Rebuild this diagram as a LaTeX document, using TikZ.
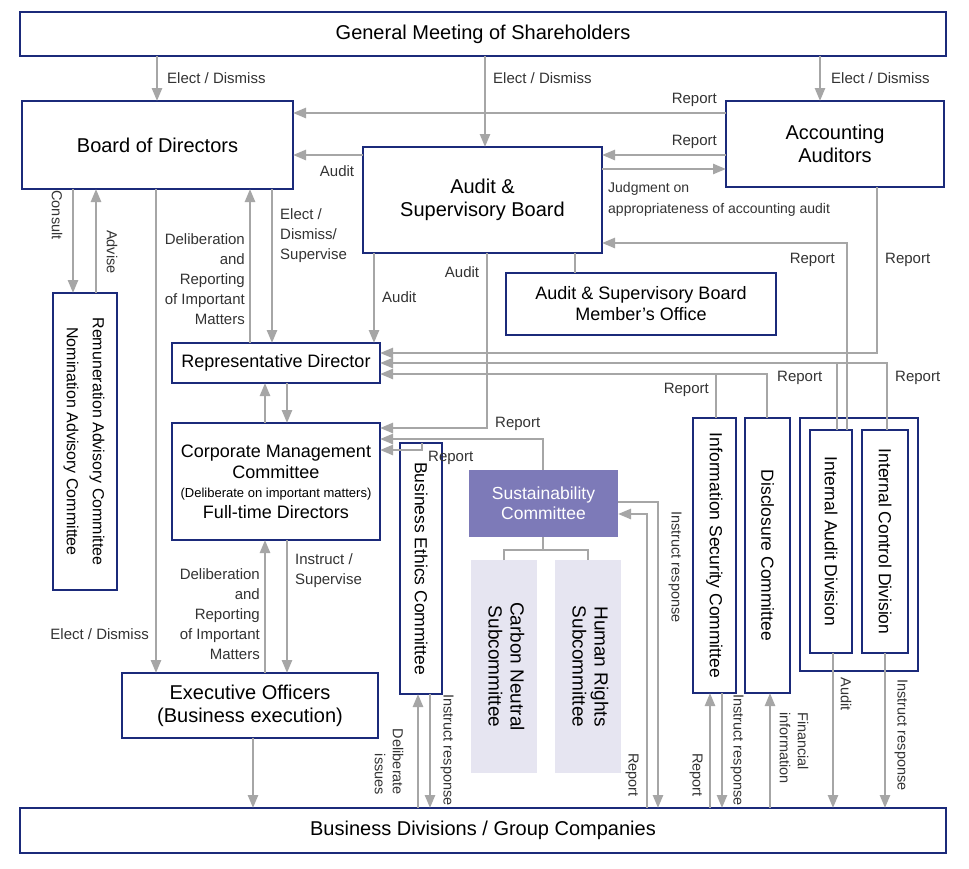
\documentclass[tikz,border=0pt]{standalone}
\usepackage{fontspec}
\setmainfont{Liberation Sans}
\usetikzlibrary{arrows.meta}
\definecolor{navy}{HTML}{1B2A7A}
\definecolor{cgray}{HTML}{A6A6A6}
\definecolor{susf}{HTML}{7D7AB8}
\definecolor{subf}{HTML}{E6E5F1}
\begin{document}
\begin{tikzpicture}[x=1pt,y=-1pt,
 box/.style={draw=navy,line width=2pt,fill=white,inner sep=0pt,outer sep=0pt,align=center,font=\fontsize{20}{23}\selectfont},
 sbox/.style={box,font=\fontsize{18}{21}\selectfont},
 vbox/.style={box,font=\fontsize{17.5}{20}\selectfont},
 arr/.style={draw=cgray,line width=2.5pt,-{Triangle[length=13pt,width=10pt]}},
 ln/.style={draw=cgray,line width=2.5pt},
 lab/.style={font=\fontsize{15}{20}\selectfont,text=black!80,inner sep=1pt},
 rlab/.style={lab,rotate=-90,font=\fontsize{14.5}{18}\selectfont}]
\useasboundingbox[fill=white] (0,0) rectangle (969,868);
% boxes
\node[box,minimum width=926pt,minimum height=44pt] (gm) at (483,34) {General Meeting of Shareholders};
\node[box,minimum width=271pt,minimum height=88pt] (bod) at (157.5,145) {Board of Directors};
\node[box,minimum width=239pt,minimum height=106pt] (asb) at (482.5,200) {Audit \&\\Supervisory Board};
\node[box,minimum width=218pt,minimum height=86pt] (aa) at (835,144) {Accounting\\Auditors};
\node[sbox,minimum width=270pt,minimum height=62pt] (off) at (641,304) {Audit \& Supervisory Board\\Member’s Office};
\node[box,minimum width=64pt,minimum height=297pt,font=\fontsize{16}{26}\selectfont] (rn) at (85,441.5) {\rotatebox{-90}{\begin{tabular}{@{}c@{}}Remuneration Advisory Committee\\Nomination Advisory Committee\end{tabular}}};
\node[sbox,minimum width=208pt,minimum height=40pt] (rd) at (276,363) {Representative Director};
\node[sbox,minimum width=208pt,minimum height=117pt] (cmc) at (276,481.5) {Corporate Management\\Committee\\[-2pt]{\fontsize{13}{16}\selectfont(Deliberate on important matters)}\\Full-time Directors};
\node[box,minimum width=256pt,minimum height=65pt] (eo) at (250,705.5) {Executive Officers\\(Business execution)};
\node[vbox,minimum width=42pt,minimum height=251pt] (bec) at (421,568.5) {\rotatebox{-90}{Business Ethics Committee}};
\node[vbox,draw=none,fill=susf,text=white,minimum width=149pt,minimum height=67pt] (sus) at (543.5,503.5) {Sustainability\\Committee};
\node[box,draw=none,fill=subf,minimum width=66pt,minimum height=213pt,font=\fontsize{19}{22}\selectfont] (cn) at (504,666.5) {\rotatebox{-90}{\begin{tabular}{@{}c@{}}Carbon Neutral\\Subcommittee\end{tabular}}};
\node[box,draw=none,fill=subf,minimum width=66pt,minimum height=213pt,font=\fontsize{19}{22}\selectfont] (hr) at (588,666.5) {\rotatebox{-90}{\begin{tabular}{@{}c@{}}Human Rights\\Subcommittee\end{tabular}}};
\node[vbox,minimum width=43pt,minimum height=275pt] (isc) at (714.5,555.5) {\rotatebox{-90}{Information Security Committee}};
\node[vbox,minimum width=45pt,minimum height=275pt] (dc) at (767.5,555.5) {\rotatebox{-90}{Disclosure Committee}};
\node[box,minimum width=118pt,minimum height=253pt] (outer) at (859,544.5) {};
\node[vbox,minimum width=42pt,minimum height=223pt] (iad) at (831,541.5) {\rotatebox{-90}{Internal Audit Division}};
\node[vbox,minimum width=46pt,minimum height=223pt] (icd) at (885,541.5) {\rotatebox{-90}{Internal Control Division}};
\node[box,minimum width=926pt,minimum height=45pt] (bd) at (483,830.5) {Business Divisions / Group Companies};
% connectors from GM
\draw[arr] (157,0 |- gm.south) -- (157,0 |- bod.north);
\node[lab,anchor=west] (l1) at (166,78) {Elect / Dismiss};
\draw[arr] (485,0 |- gm.south) -- (485,0 |- asb.north);
\node[lab,anchor=west] (l2) at (492,78) {Elect / Dismiss};
\draw[arr] (820,0 |- gm.south) -- (820,0 |- aa.north);
\node[lab,anchor=west] (l3) at (830,78) {Elect / Dismiss};
% AA / ASB / BoD
\draw[arr] (aa.west |- 0,113) -- (bod.east |- 0,113);
\node[lab,anchor=east] (l4) at (718,100) {Report};
\draw[arr] (aa.west |- 0,155) -- (asb.east |- 0,155);
\node[lab,anchor=east] (l5) at (718,142) {Report};
\draw[arr] (asb.east |- 0,169) -- (aa.west |- 0,169);
\node[lab,anchor=west,align=left,font=\fontsize{14}{21}\selectfont] (l6) at (607,199) {Judgment on\\appropriateness of accounting audit};
\draw[arr] (asb.west |- 0,155) -- (bod.east |- 0,155);
\node[lab] (l7) at (337,171) {Audit};
% BoD & RN
\draw[arr] (73,0 |- bod.south) -- (73,0 |- rn.north);
\node[rlab] (l8) at (57,215) {Consult};
\draw[arr] (96,0 |- rn.north) -- (96,0 |- bod.south);
\node[rlab] (l9) at (112,252) {Advise};
\draw[arr] (156,0 |- bod.south) -- (156,0 |- eo.north);
\node[lab,anchor=east] (l10) at (150,634) {Elect / Dismiss};
% BoD & RD
\draw[arr] (250,0 |- rd.north) -- (250,0 |- bod.south);
\node[lab,anchor=east,align=right] (l11) at (246,279) {Deliberation\\and\\Reporting\\of Important\\Matters};
\draw[arr] (272,0 |- bod.south) -- (272,0 |- rd.north);
\node[lab,anchor=west,align=left] (l12) at (279,236) {Elect /\\Dismiss/\\Supervise};
\draw[arr] (374,0 |- asb.south) -- (374,0 |- rd.north);
\node[lab,anchor=west] (l13) at (381,297) {Audit};
\draw[ln] (575,0 |- asb.south) -- (575,0 |- off.north);
% to CMC
\draw[arr] (487,0 |- asb.south) |- (cmc.east |- 0,428);
\node[lab] (l14) at (462,272) {Audit};
\draw[arr] (543,0 |- sus.north) |- (cmc.east |- 0,439);
\node[lab,anchor=west] (l15) at (494,424) {Report};
\draw[arr] (422,0 |- bec.north) |- (cmc.east |- 0,450);
\node[lab,anchor=west] (l16) at (427,458) {Report};
% RD / CMC / EO
\draw[arr] (265,0 |- cmc.north) -- (265,0 |- rd.south);
\draw[arr] (287,0 |- rd.south) -- (287,0 |- cmc.north);
\draw[arr] (265,0 |- eo.north) -- (265,0 |- cmc.south);
\node[lab,anchor=east,align=right] (l17) at (261,614) {Deliberation\\and\\Reporting\\of Important\\Matters};
\draw[arr] (287,0 |- cmc.south) -- (287,0 |- eo.north);
\node[lab,anchor=west,align=left] (l18) at (294,571) {Instruct /\\Supervise};
\draw[arr] (253,0 |- eo.south) -- (253,0 |- bd.north);
% BEC
\draw[arr] (418,0 |- bd.north) -- (418,0 |- bec.south);
\node[rlab,align=right] (l19) at (389,762) {Deliberate\\issues};
\draw[arr] (430,0 |- bec.south) -- (430,0 |- bd.north);
\node[rlab] (l20) at (447,750) {Instruct response};
% Sustainability
\draw[ln] (543,0 |- sus.south) -- (543,550);
\draw[draw=cgray,line width=2pt] (504,0 |- cn.north) -- (504,550) -- (588,550) -- (588,0 |- hr.north);
\draw[arr] (sus.east |- 0,502) -| (658,0 |- bd.north);
\node[rlab] (l21) at (675,567) {Instruct response};
\draw[arr] (647,0 |- bd.north) |- (sus.east |- 0,514);
\node[rlab] (l22) at (632,775) {Report};
% ISC, DC, IAD, ICD
\draw[arr] (710,0 |- bd.north) -- (710,0 |- isc.south);
\node[rlab] (l23) at (696,775) {Report};
\draw[arr] (722,0 |- isc.south) -- (722,0 |- bd.north);
\node[rlab] (l24) at (737,750) {Instruct response};
\draw[arr] (770,0 |- bd.north) -- (770,0 |- dc.south);
\node[rlab,align=left] (l25) at (794,748) {Financial\\information};
\draw[arr] (833,0 |- iad.south) -- (833,0 |- bd.north);
\node[rlab] (l26) at (846,694) {Audit};
\draw[arr] (885,0 |- icd.south) -- (885,0 |- bd.north);
\node[rlab] (l27) at (901,735) {Instruct response};
% Reports to RD
\draw[arr] (877,0 |- aa.south) |- (rd.east |- 0,353);
\node[lab,anchor=west] (l28) at (884,260) {Report};
\draw[arr] (887,0 |- icd.north) |- (rd.east |- 0,363);
\node[lab,anchor=west] (l29) at (894,378) {Report};
\draw[ln] (837,0 |- iad.north) -- (837,363);
\draw[arr] (767,0 |- dc.north) |- (rd.east |- 0,374);
\node[lab,anchor=west] (l30) at (776,378) {Report};
\draw[ln] (716,0 |- isc.north) -- (716,374);
\node[lab,anchor=east] (l31) at (710,390) {Report};
\draw[arr] (847,0 |- iad.north) |- (asb.east |- 0,243);
\node[lab,anchor=east] (l32) at (836,260) {Report};
\end{tikzpicture}
\end{document}
